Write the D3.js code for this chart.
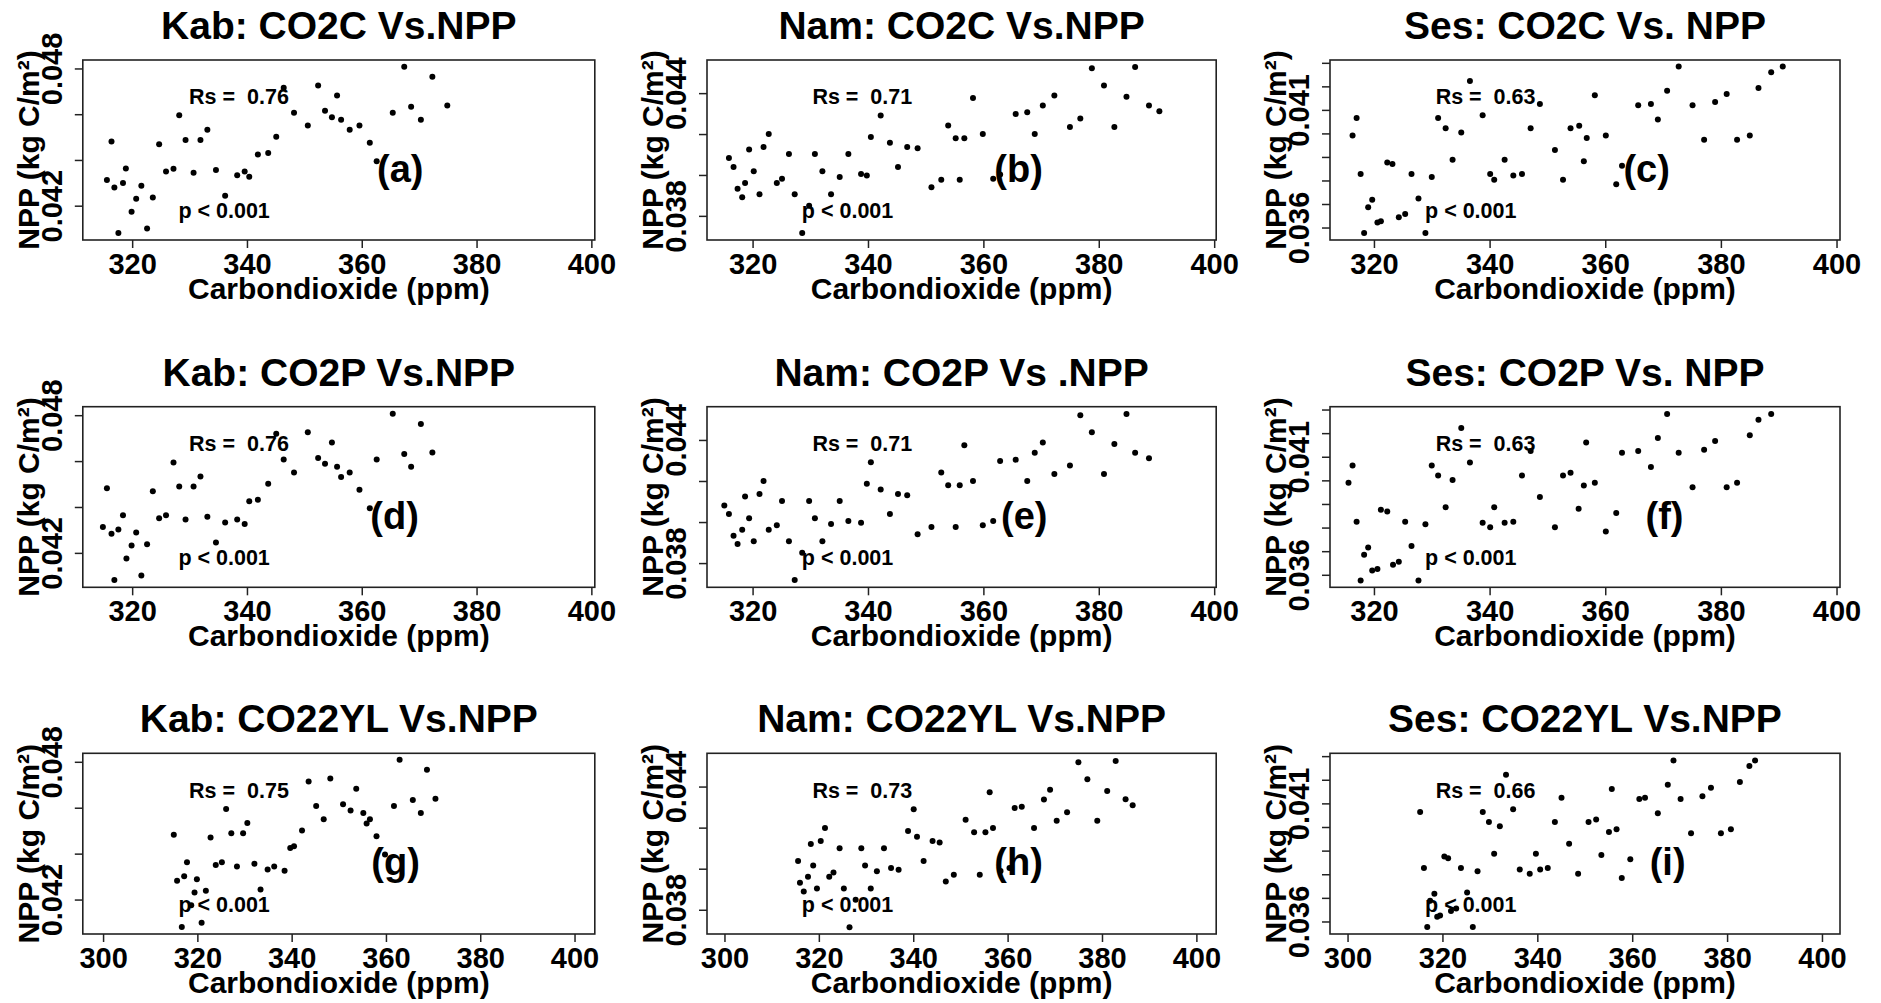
<!DOCTYPE html>
<html><head><meta charset="utf-8">
<script src="https://cdn.jsdelivr.net/npm/d3@7"></script>
<style>
body{margin:0;background:#fff}
svg text{font-family:"Liberation Sans",Arial,Helvetica,sans-serif;font-weight:bold;fill:#000;white-space:pre}
</style>
</head><body>
<svg id="chart" width="1881" height="1003"></svg>
<script>
// ---------------- DATA ----------------
const kabCO2C_x = [315.6,316.4,316.9,317.6,318.4,318.9,319.9,320.7,321.6,322.6,323.6,324.7,325.9,327.2,328.2,329.3,330.7,331.9,333.1,334.6,336.2,338.3,339.6,340.4,341.9,343.7,345.1,346.4,348.2,350.6,352.4,353.6,354.8,355.7,356.4,357.9,359.6,361.4,362.6,365.4,367.4,368.6,370.3,372.3,374.9];
const kabCO2C_npp = [0.04312,0.04481,0.0428,0.04081,0.04299,0.04363,0.04174,0.0423,0.04287,0.041,0.04236,0.04469,0.0435,0.04362,0.04595,0.04487,0.04344,0.04487,0.04532,0.04356,0.04244,0.04333,0.04349,0.04327,0.04424,0.0443,0.04501,0.04716,0.04606,0.04551,0.04726,0.04615,0.04587,0.04682,0.04576,0.04532,0.04551,0.04475,0.04394,0.04606,0.04807,0.04633,0.04576,0.04764,0.04638];

const namCO2C_x = [315.9,316.7,317.4,318.2,318.7,319.4,320.2,321.2,321.9,322.8,324.2,325.1,326.3,327.3,328.6,329.8,330.8,332.1,333.6,335.1,336.6,338.8,339.8,340.5,342.2,343.8,345.2,346.8,348.6,351.0,352.7,353.9,355.2,355.9,356.7,358.2,359.9,361.7,362.9,365.6,367.6,368.9,370.3,372.3,375.0,376.8,378.8,380.9,382.7,384.8,386.3,388.7,390.5];
const namCO2C_npp = [0.04083,0.04039,0.03933,0.03891,0.03961,0.04124,0.04018,0.03906,0.04137,0.042,0.03961,0.03982,0.04102,0.03906,0.03716,0.03849,0.04102,0.04018,0.03906,0.0399,0.04102,0.04005,0.03997,0.04185,0.04291,0.04158,0.04039,0.04137,0.0413,0.0394,0.03976,0.04242,0.04179,0.03976,0.04179,0.04376,0.042,0.03982,0.04002,0.04298,0.04306,0.042,0.0434,0.04389,0.04234,0.04276,0.04522,0.04437,0.04234,0.04382,0.04528,0.0434,0.04312];

const sesCO2C_x = [316.3,317.0,317.7,318.3,319.0,319.7,320.6,321.2,322.3,323.2,324.3,325.4,326.5,327.7,328.9,330.0,331.1,332.4,333.6,335.1,336.6,338.8,340.1,340.8,342.6,344.1,345.6,347.1,348.7,351.3,352.7,354.0,355.5,356.3,356.8,358.2,360.1,361.9,362.9,365.7,367.9,369.1,370.7,372.7,375.1,377.1,379.0,381.0,382.8,385.0,386.5,388.7,390.7];
const sesCO2C_npp = [0.03991,0.04065,0.03827,0.03577,0.03686,0.03718,0.03621,0.03627,0.03876,0.0387,0.03644,0.03657,0.03827,0.03723,0.03577,0.03815,0.04065,0.04022,0.03888,0.04004,0.04223,0.04077,0.03827,0.03803,0.03888,0.03821,0.03827,0.04022,0.04125,0.0393,0.03803,0.04022,0.04033,0.03882,0.0398,0.04162,0.03991,0.03784,0.03863,0.0412,0.04125,0.04059,0.04181,0.04284,0.0412,0.03973,0.04133,0.04168,0.03973,0.03991,0.04193,0.0426,0.04284];

const kabCO2P_x = [314.9,315.6,316.4,316.9,317.6,318.4,319.0,319.9,320.7,321.6,322.6,323.6,324.7,325.9,327.2,328.2,329.3,330.7,331.9,333.1,334.6,336.2,338.3,339.6,340.4,341.9,343.7,345.1,346.4,348.2,350.6,352.4,353.6,354.8,355.7,356.4,357.9,359.6,361.4,362.6,365.4,367.4,368.6,370.3,372.3];
const kabCO2P_npp = [0.04313,0.04482,0.04283,0.04082,0.04302,0.04364,0.04175,0.04232,0.04289,0.04101,0.04238,0.04469,0.04351,0.04364,0.04594,0.04489,0.04345,0.04489,0.04533,0.04357,0.04245,0.04332,0.04345,0.04326,0.04425,0.04431,0.04501,0.04719,0.04607,0.0455,0.04726,0.04613,0.04588,0.04681,0.04575,0.04531,0.0455,0.04475,0.04395,0.04607,0.04806,0.04631,0.04575,0.04762,0.04637];

const namCO2P_x = [315.1,315.9,316.7,317.4,318.2,318.7,319.4,320.2,321.2,321.9,322.8,324.2,325.1,326.3,327.3,328.6,329.8,330.8,332.1,333.6,335.1,336.6,338.8,339.8,340.5,342.2,343.8,345.2,346.8,348.6,351.0,352.7,353.9,355.2,355.9,356.7,358.2,359.9,361.7,362.9,365.6,367.6,368.9,370.3,372.3,375.0,376.8,378.8,380.9,382.7,384.8,386.3,388.7];
const namCO2P_npp = [0.04081,0.04039,0.03933,0.03893,0.03963,0.04124,0.04018,0.03906,0.04137,0.042,0.03963,0.03984,0.04102,0.03906,0.03717,0.0385,0.04102,0.04018,0.03906,0.0399,0.04102,0.04005,0.03997,0.04187,0.04291,0.04158,0.04039,0.04137,0.0413,0.03941,0.03976,0.04241,0.04179,0.03976,0.04179,0.04374,0.042,0.03984,0.04005,0.04298,0.04304,0.042,0.04338,0.04387,0.04234,0.04276,0.0452,0.04437,0.04234,0.0438,0.04527,0.04338,0.04311];

const sesCO2P_x = [315.6,316.3,317.0,317.7,318.3,319.0,319.7,320.6,321.2,322.3,323.3,324.3,325.4,326.5,327.7,328.9,330.0,331.1,332.4,333.6,335.1,336.6,338.8,340.1,340.8,342.6,344.1,345.6,347.1,348.7,351.3,352.7,354.0,355.4,356.3,356.7,358.2,360.1,361.9,362.9,365.7,367.9,369.1,370.7,372.7,375.1,377.1,379.0,381.0,382.8,385.0,386.5,388.7];
const sesCO2P_npp = [0.0399,0.04063,0.03825,0.03576,0.03685,0.03716,0.03618,0.03624,0.03875,0.03868,0.03642,0.03655,0.03825,0.03722,0.03576,0.03814,0.04063,0.04021,0.03886,0.04002,0.04222,0.04076,0.0382,0.03801,0.03886,0.0382,0.03825,0.04021,0.04124,0.0393,0.03801,0.04021,0.04032,0.0388,0.03978,0.0416,0.0399,0.03783,0.03862,0.04117,0.04124,0.04057,0.04179,0.04281,0.04117,0.03971,0.0413,0.04167,0.03971,0.0399,0.04191,0.04257,0.04281];

const kabCO22YL_x = [315.0,315.7,316.7,317.2,317.8,318.7,319.4,319.9,320.9,321.8,322.8,323.9,325.2,326.1,327.2,328.4,329.7,330.6,332.1,333.4,334.9,336.3,338.5,339.7,340.5,342.2,343.6,345.2,346.8,348.2,350.9,352.5,353.7,355.2,355.9,356.6,358.0,359.8,361.7,362.9,365.7,367.4,368.7,370.5];
const kabCO22YL_npp = [0.04482,0.04282,0.0408,0.04301,0.04363,0.04175,0.04231,0.04288,0.04099,0.04238,0.0447,0.0435,0.04363,0.04594,0.04489,0.04344,0.04489,0.04533,0.04356,0.04244,0.04331,0.04344,0.04325,0.04425,0.04432,0.04501,0.04714,0.04607,0.0455,0.04727,0.04615,0.04588,0.04683,0.04577,0.04531,0.0455,0.04476,0.04396,0.04607,0.04809,0.04634,0.04577,0.04765,0.04639];

const namCO22YL_x = [315.6,316.0,316.8,317.7,318.3,318.8,319.6,320.4,321.3,322.2,323.1,324.4,325.3,326.5,327.8,329.0,329.8,331.0,332.3,333.8,335.3,336.9,338.9,340.1,340.8,342.2,344.1,345.6,346.9,348.6,351.1,352.9,354.1,355.3,356.2,356.9,358.5,360.4,361.5,363.0,365.6,367.7,369.0,370.4,372.6,375.0,376.9,379.0,381.1,382.9,385.0,386.5];
const namCO22YL_npp = [0.04037,0.03932,0.03889,0.03961,0.0412,0.04016,0.03904,0.04135,0.04198,0.03961,0.03982,0.04099,0.03904,0.03715,0.03849,0.04099,0.04016,0.03904,0.03987,0.04099,0.04003,0.03995,0.04184,0.0429,0.04156,0.04037,0.04135,0.04128,0.03938,0.0397,0.04239,0.04177,0.0397,0.04177,0.04372,0.04198,0.03989,0.04003,0.04296,0.04302,0.04198,0.04337,0.04385,0.04233,0.04275,0.04519,0.04436,0.04233,0.04379,0.04525,0.04338,0.04309];

const sesCO22YL_x = [315.3,316.1,316.8,317.4,318.3,318.9,319.5,320.4,321.2,321.8,322.9,323.9,325.2,326.4,327.4,328.5,329.8,330.9,332.1,333.4,334.9,336.3,338.4,339.7,340.6,342.2,343.7,345.1,346.7,348.6,350.8,352.4,353.5,355.1,355.7,356.7,357.8,359.6,361.5,362.7,365.4,367.5,368.7,370.2,372.4,374.8,376.6,378.7,380.8,382.7,384.7,385.9];
const sesCO22YL_npp = [0.04063,0.03826,0.03577,0.03688,0.03717,0.0362,0.03625,0.03875,0.03868,0.03644,0.03655,0.03826,0.03723,0.03577,0.03813,0.04063,0.04021,0.03887,0.04003,0.04221,0.04075,0.0382,0.03802,0.03887,0.0382,0.03826,0.04021,0.04124,0.03929,0.03802,0.04021,0.04032,0.03881,0.03979,0.04161,0.0399,0.03784,0.03863,0.04118,0.04124,0.04058,0.04179,0.04282,0.04118,0.03973,0.0413,0.04166,0.03973,0.0399,0.0419,0.04258,0.04282];

const panelTitles = ["Kab: CO2C Vs.NPP","Nam: CO2C Vs.NPP","Ses: CO2C Vs. NPP",
                     "Kab: CO2P Vs.NPP","Nam: CO2P Vs .NPP","Ses: CO2P Vs. NPP",
                     "Kab: CO22YL Vs.NPP","Nam: CO22YL Vs.NPP","Ses: CO22YL Vs.NPP"];
const panelLetters = ["(a)","(b)","(c)","(d)","(e)","(f)","(g)","(h)","(i)"];
const rsValues = ["0.76","0.71","0.63","0.76","0.71","0.63","0.75","0.73","0.66"];
const pText = "p < 0.001";
const xLabel = "Carbondioxide (ppm)";
const yLabel = "NPP (kg C/m\u00B2)";

const xTicksRows12 = [320,340,360,380,400];
const xTicksRow3 = [300,320,340,360,380,400];
const yTicksKab = [0.042,0.044,0.046,0.048];
const yTickLabelsKab = ["0.042","","","0.048"];
const yTicksNam = [0.038,0.040,0.042,0.044];
const yTickLabelsNam = ["0.038","","","0.044"];
const yTicksSes = [0.036,0.037,0.038,0.039,0.040,0.041,0.042,0.043];
const yTickLabelsSes = ["0.036","","","","","0.041","",""];

const seriesX = [kabCO2C_x,namCO2C_x,sesCO2C_x,kabCO2P_x,namCO2P_x,sesCO2P_x,kabCO22YL_x,namCO22YL_x,sesCO22YL_x];
const seriesY = [kabCO2C_npp,namCO2C_npp,sesCO2C_npp,kabCO2P_npp,namCO2P_npp,sesCO2P_npp,kabCO22YL_npp,namCO22YL_npp,sesCO22YL_npp];

// ---------------- LAYOUT ----------------
const colLeft = [82.8, 707, 1330];
const colWidth = [512, 509.2, 510];
const rowTop = [60, 406.7, 753.3];
const rowHeight = [180, 180.6, 180.7];
const xDomRow12 = [[311.4,400.6],[312.1,400.35],[312.4,400.6]];
const xDomRow3 = [[295.7,404.3],[296.3,404.2],[296.3,403.8]];
const yDomCol = [[0.0405,0.04837],[0.03682,0.04562],[0.03547,0.04312]];
const yTicksCol = [yTicksKab,yTicksNam,yTicksSes];
const yTickLabelsCol = [yTickLabelsKab,yTickLabelsNam,yTickLabelsSes];
const letterFracX = [0.62,0.612,0.621,0.609,0.623,0.656,0.611,0.612,0.662];

const svg = d3.select("#chart");
const FONT = "'Liberation Sans',Arial,sans-serif";

for (let i = 0; i < 9; i++) {
  const r = Math.floor(i/3), c = i % 3;
  const L = colLeft[c], T = rowTop[r], W = colWidth[c], H = rowHeight[r];
  const x = d3.scaleLinear().domain(r < 2 ? xDomRow12[c] : xDomRow3[c]).range([L, L+W]);
  const y = d3.scaleLinear().domain(yDomCol[c]).range([T+H, T]);
  const g = svg.append("g");

  // points
  const pts = d3.zip(seriesX[i], seriesY[i]);
  g.selectAll("circle").data(pts).join("circle")
    .attr("cx", d => x(d[0])).attr("cy", d => y(d[1])).attr("r", 3).attr("fill", "#000");

  // box
  g.append("rect").attr("x", L).attr("y", T).attr("width", W).attr("height", H)
    .attr("fill", "none").attr("stroke", "#222").attr("stroke-width", 1.6);

  // x axis
  const xt = r < 2 ? xTicksRows12 : xTicksRow3;
  const xa = g.append("g").attr("transform", `translate(0,${T+H})`)
    .call(d3.axisBottom(x).tickValues(xt).tickSize(8).tickFormat(d3.format("d")));
  xa.select(".domain").remove();
  xa.selectAll(".tick line").attr("stroke", "#222").attr("stroke-width", 1.5);
  xa.selectAll(".tick text").attr("y", 33.5).attr("dy", null)
    .style("font-size", "29px").style("font-family", FONT).style("font-weight", "bold").attr("fill", "#000");

  // y axis
  const ya = g.append("g").attr("transform", `translate(${L},0)`)
    .call(d3.axisLeft(y).tickValues(yTicksCol[c]).tickSize(8).tickFormat((d, k) => yTickLabelsCol[c][k]));
  ya.select(".domain").remove();
  ya.selectAll(".tick line").attr("stroke", "#222").attr("stroke-width", 1.5);
  ya.selectAll(".tick text").attr("x", null).attr("dy", null).attr("y", null)
    .attr("transform", "translate(-21,0) rotate(-90)").attr("text-anchor", "middle")
    .style("font-size", "29px").style("font-family", FONT).style("font-weight", "bold").attr("fill", "#000");

  // titles and labels
  g.append("text").attr("x", L + W/2).attr("y", T - 21).attr("text-anchor", "middle")
    .style("font-size", "39px").text(panelTitles[i]);
  g.append("text").attr("x", L + W/2).attr("y", T + H + 58.5).attr("text-anchor", "middle")
    .style("font-size", "30px").text(xLabel);
  g.append("text").attr("transform", `translate(${L-44},${T + H/2}) rotate(-90)`).attr("text-anchor", "middle")
    .style("font-size", "30px").text(yLabel);

  // annotations
  g.append("text").attr("x", L + 0.305*W).attr("y", T + 0.247*H).attr("text-anchor", "middle")
    .style("font-size", "21.5px").text("Rs =  " + rsValues[i]);
  g.append("text").attr("x", L + 0.276*W).attr("y", T + 0.878*H).attr("text-anchor", "middle")
    .style("font-size", "21.5px").text(pText);
  g.append("text").attr("x", L + letterFracX[i]*W).attr("y", T + 0.675*H).attr("text-anchor", "middle")
    .style("font-size", "38px").text(panelLetters[i]);
}
</script>
</body></html>
